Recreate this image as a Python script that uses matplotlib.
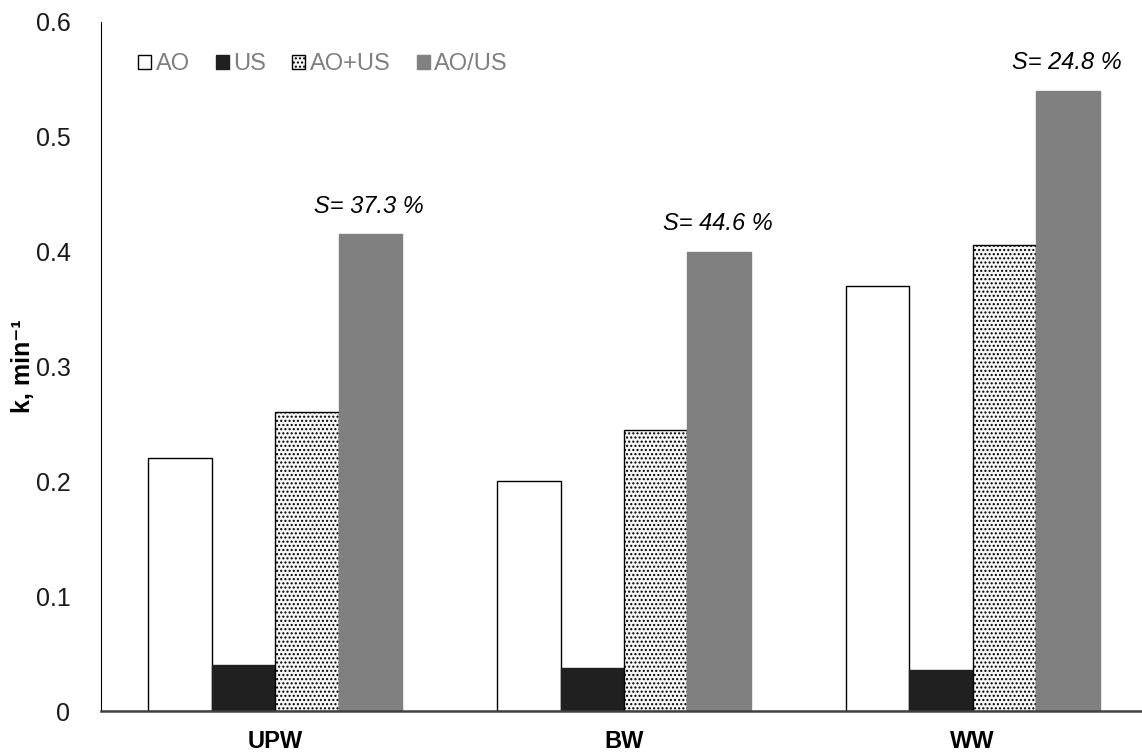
import matplotlib
matplotlib.use("Agg")
import matplotlib.pyplot as plt
import numpy as np

plt.rcParams['font.family'] = ['Liberation Sans', 'DejaVu Sans']
plt.rcParams['hatch.color'] = '#c6c6c6'
plt.rcParams['hatch.linewidth'] = 1.0

categories = ["UPW", "BW", "WW"]
series_names = ["AO", "US", "AO+US", "AO/US"]
ao = [0.22, 0.20, 0.37]
us = [0.040, 0.0375, 0.036]
ao_us_combined = [0.26, 0.245, 0.406]
ao_us_sequential = [0.415, 0.40, 0.54]
synergy_labels = ["S= 37.3 %", "S= 44.6 %", "S= 24.8 %"]
y_ticks = [0, 0.1, 0.2, 0.3, 0.4, 0.5, 0.6]
y_tick_labels = ["0", "0.1", "0.2", "0.3", "0.4", "0.5", "0.6"]

fig = plt.figure(figsize=(11.42, 7.54), dpi=100)
ax = fig.add_axes([0.0884, 0.057, 0.916, 0.914])

x = np.arange(len(categories))
w = 0.182
offsets = [-1.5 * w, -0.5 * w, 0.5 * w, 1.5 * w]

ax.bar(x + offsets[0], ao, w, facecolor='white', edgecolor='black', linewidth=1.0, label=series_names[0])
ax.bar(x + offsets[1], us, w, facecolor='#202020', edgecolor='#202020', linewidth=1.0, label=series_names[1])
ax.bar(x + offsets[2], ao_us_combined, w, facecolor='#f7f7f7', edgecolor='black', linewidth=1.0,
       hatch='....', label=series_names[2])
ax.bar(x + offsets[3], ao_us_sequential, w, facecolor='#808080', edgecolor='#808080', linewidth=1.0,
       label=series_names[3])

for xi, val, txt in zip(x, ao_us_sequential, synergy_labels):
    ax.annotate(txt, (xi + offsets[3], val), xytext=(-1, 12), textcoords='offset points',
                ha='center', va='bottom', fontsize=17, fontstyle='italic', color='black')

ax.set_ylim(0, 0.6)
ax.set_xlim(-0.5, 2.5)
ax.set_yticks(y_ticks)
ax.set_yticklabels(y_tick_labels)
ax.set_xticks(x)
ax.set_xticklabels(categories, fontweight='bold', fontsize=17)
ax.tick_params(axis='y', length=0, labelsize=18, labelcolor='#1a1a1a', pad=22)
ax.tick_params(axis='x', length=0, pad=14)
ax.set_ylabel("k, min\u207b\u00b9", fontsize=18, fontweight='bold')
ax.yaxis.set_label_coords(-0.063, 0.5)

for side in ['top', 'right']:
    ax.spines[side].set_visible(False)
ax.spines['left'].set_color('black')
ax.spines['bottom'].set_color('#404040')
ax.spines['bottom'].set_linewidth(1.8)

leg = ax.legend(loc='upper left', ncol=4, frameon=False, fontsize=17, handlelength=0.55,
                handleheight=0.55, handletextpad=0.2, columnspacing=1.1,
                bbox_to_anchor=(0.015, 0.985))
for t in leg.get_texts():
    t.set_color('#7f7f7f')

fig.savefig("out.png", dpi=100)
